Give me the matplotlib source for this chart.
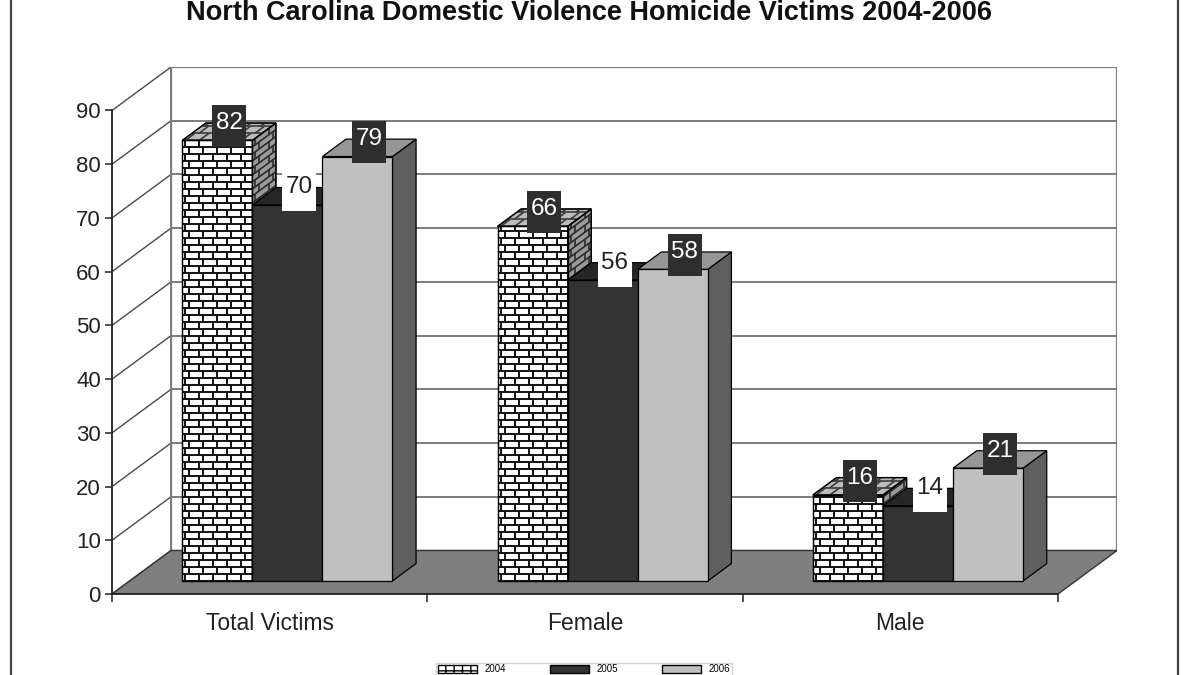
import matplotlib
matplotlib.use('Agg')
import matplotlib.pyplot as plt
from matplotlib.patches import Polygon, Rectangle, Patch
from matplotlib.collections import LineCollection
from matplotlib.lines import Line2D
import numpy as np

plt.rcParams['font.family'] = ['Liberation Sans', 'DejaVu Sans']

# ---------------- data ----------------
title = 'North Carolina Domestic Violence Homicide Victims 2004-2006'
categories = ['Total Victims', 'Female', 'Male']
years = ['2004', '2005', '2006']
victims_2004 = [82, 66, 16]
victims_2005 = [70, 56, 14]
victims_2006 = [79, 58, 21]
y_ticks = [0, 10, 20, 30, 40, 50, 60, 70, 80, 90]
series = [victims_2004, victims_2005, victims_2006]

# ---------------- layout ----------------
W, H = 1200, 675
fig = plt.figure(figsize=(12, 6.75), dpi=100)

AX_L, AX_FRONT_R, AX_B, AX_FRONT_T = 112, 1058, 594, 110.5
DEPTH_PX = (59, 43.5)
YMAX = y_ticks[-1]
n = len(categories)
kx = n / (AX_FRONT_R - AX_L)      # data units per pixel (x)
ky = YMAX / (AX_B - AX_FRONT_T)   # data units per pixel (y)
DX, DY = DEPTH_PX[0] * kx, DEPTH_PX[1] * ky
x_lo, x_hi = -0.5, n - 0.5

ax = fig.add_axes([AX_L / W, 1 - AX_B / H,
                   (AX_FRONT_R + DEPTH_PX[0] - AX_L) / W,
                   (AX_B - AX_FRONT_T + DEPTH_PX[1]) / H])
ax.set_xlim(x_lo, x_hi + DX)
ax.set_ylim(0, YMAX + DY)
ax.patch.set_visible(False)


def P(x, y, d):
    return (x + d * DX, y + d * DY)


# ---------------- walls & floor ----------------
back = Polygon([P(x_lo, 0, 1), P(x_hi, 0, 1), P(x_hi, YMAX, 1), P(x_lo, YMAX, 1)],
               closed=True, facecolor='white', edgecolor='#7c7c7c', lw=1.6, zorder=0.5)
ax.add_patch(back)
left = Polygon([P(x_lo, 0, 0), P(x_lo, 0, 1), P(x_lo, YMAX, 1), P(x_lo, YMAX, 0)],
               closed=True, facecolor='white', edgecolor='none', zorder=0.5)
ax.add_patch(left)
for v in y_ticks:
    ax.add_line(Line2D(*zip(P(x_lo, v, 1), P(x_hi, v, 1)), color='#7c7c7c', lw=1.4, zorder=0.6))
    ax.add_line(Line2D(*zip(P(x_lo, v, 0), P(x_lo, v, 1)), color='#4a4a4a', lw=1.0, zorder=0.6))
ax.add_line(Line2D(*zip(P(x_lo, 0, 1), P(x_lo, YMAX, 1)), color='#7c7c7c', lw=1.4, zorder=0.6))
floor = Polygon([P(x_lo, 0, 0), P(x_hi, 0, 0), P(x_hi, 0, 1), P(x_lo, 0, 1)],
                closed=True, facecolor='#7f7f7f', edgecolor='#333333', lw=1.0, zorder=0.7)
ax.add_patch(floor)

# ---------------- bars ----------------
GROUP_W = 2 / 3
BW = GROUP_W / len(series)
D0, D1 = 0.3, 0.7
front_colors = ['white', '#333333', '#c0c0c0']
top_colors = ['#bcbcbc', '#262626', '#969696']
side_colors = ['#9a9a9a', '#1c1c1c', '#5f5f5f']
mortar_colors = ['#111111', '#3c3c3c', '#2c2c2c']  # front, top, side


def add_bricks(face, p0, u, v, u_px, v_px, color, lw, z):
    def pt(a, b):
        return (p0[0] + a * u[0] + b * v[0], p0[1] + a * u[1] + b * v[1])
    segs = []
    row_h, brick_w = 7.0, 14.0
    r = 0
    t0 = 0.0
    while t0 < v_px:
        b0 = t0 / v_px
        b1 = min((t0 + row_h) / v_px, 1.0)
        segs.append([pt(0, b0), pt(1, b0)])
        s = brick_w / 2 if r % 2 else 3.0
        while s < u_px:
            segs.append([pt(s / u_px, b0), pt(s / u_px, b1)])
            s += brick_w
        r += 1
        t0 += row_h
    lc = LineCollection(segs, colors=color, linewidths=lw, zorder=z)
    ax.add_collection(lc)
    lc.set_clip_path(face)


z = 2.0
for ci in range(n):
    for si, vals in enumerate(series):
        val = vals[ci]
        l = ci - GROUP_W / 2 + si * BW
        r = l + BW
        side = Polygon([P(r, 0, D0), P(r, 0, D1), P(r, val, D1), P(r, val, D0)], closed=True,
                       facecolor=side_colors[si], edgecolor='black', lw=0.9, zorder=z)
        top = Polygon([P(l, val, D0), P(r, val, D0), P(r, val, D1), P(l, val, D1)], closed=True,
                      facecolor=top_colors[si], edgecolor='black', lw=0.9, zorder=z)
        front = Polygon([P(l, 0, D0), P(r, 0, D0), P(r, val, D0), P(l, val, D0)], closed=True,
                        facecolor=front_colors[si], edgecolor='black', lw=0.9, zorder=z + 0.01)
        for p in (side, top, front):
            ax.add_patch(p)
        if si == 0:
            add_bricks(front, P(l, 0, D0), (BW, 0), (0, val), BW / kx, val / ky,
                       mortar_colors[0], 1.4, z + 0.02)
            add_bricks(side, P(r, 0, D0), ((D1 - D0) * DX, (D1 - D0) * DY), (0, val),
                       (D1 - D0) * DEPTH_PX[0], val / ky, mortar_colors[2], 1.2, z + 0.02)
            add_bricks(top, P(l, val, D0), (BW, 0), ((D1 - D0) * DX, (D1 - D0) * DY),
                       BW / kx, (D1 - D0) * DEPTH_PX[1], mortar_colors[1], 1.2, z + 0.02)
            # redraw outlines on top of bricks
            for p in (side, top, front):
                ax.add_patch(Polygon(p.get_xy(), closed=True, fill=False, edgecolor='black',
                                     lw=0.9, zorder=z + 0.03))
        z += 0.1

# ---------------- value labels ----------------
for ci in range(n):
    for si, vals in enumerate(series):
        val = vals[ci]
        l = ci - GROUP_W / 2 + si * BW
        tx, _ = P(l + BW / 2, val, 0.5)
        ty = val + D1 * DY
        dark = si != 1
        box = Rectangle((tx - 17 * kx, ty - 24 * ky), 34 * kx, 42 * ky,
                        facecolor='#2e2e2e' if dark else 'white', edgecolor='none', zorder=20)
        ax.add_patch(box)
        ax.text(tx, ty, str(val), ha='center', va='center', fontsize=17.5,
                color='white' if dark else '#222222', zorder=21)

# ---------------- axes ----------------
for s in ('top', 'right'):
    ax.spines[s].set_visible(False)
ax.spines['left'].set_bounds(0, YMAX)
ax.spines['bottom'].set_bounds(x_lo, x_hi)
for s in ('left', 'bottom'):
    ax.spines[s].set_color('#222222')
    ax.spines[s].set_linewidth(1.3)
    ax.spines[s].set_zorder(3)
ax.set_yticks(y_ticks)
ax.set_xticks(np.arange(n + 1) - 0.5)
ax.set_xticklabels([])
ax.set_xticks(np.arange(n), minor=True)
ax.set_xticklabels(categories, minor=True)
ax.tick_params(axis='x', which='major', direction='out', length=6, width=1.1, color='#222222')
ax.tick_params(axis='x', which='minor', length=0, pad=13, labelsize=16.5, labelcolor='#222222')
ax.tick_params(axis='y', direction='out', length=5, width=1.1, color='#222222',
               labelsize=16, pad=3, labelcolor='#222222')

# ---------------- title, frame, legend ----------------
fig.text(589 / W, 1 - 19.5 / H, title, ha='center', va='baseline', fontsize=19.5,
         fontweight='bold', color='#111111')
for xp in (11, 1178):
    fig.add_artist(Line2D([xp / W, xp / W], [0, 1], transform=fig.transFigure,
                          color='#444444', lw=1.6))

handles = [Patch(facecolor='white', edgecolor='black', hatch='++'),
           Patch(facecolor='#333333', edgecolor='black'),
           Patch(facecolor='#c0c0c0', edgecolor='black')]
fig.legend(handles, years, loc='upper center', bbox_to_anchor=(584 / W, 1 - 663 / H),
           bbox_transform=fig.transFigure, ncol=3, fontsize=7, frameon=True,
           fancybox=False, edgecolor='#c8c8c8', borderaxespad=0, borderpad=0.15,
           handlelength=4, handleheight=0.9, columnspacing=4.5, handletextpad=0.8)

fig.savefig('out.png', dpi=100)
